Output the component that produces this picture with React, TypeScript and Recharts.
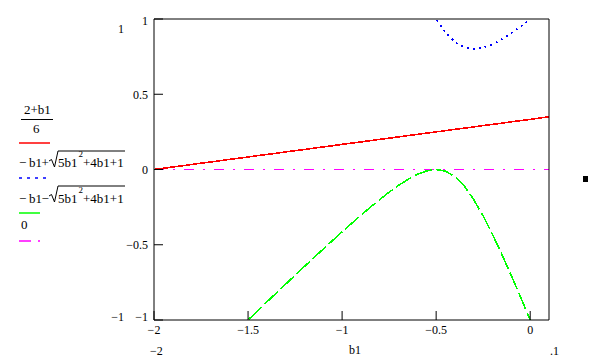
import React from 'react';
import { ComposedChart, Line, XAxis, YAxis, ReferenceLine } from 'recharts';

// sample points along b1
const b1 = [
  -2, -1.95, -1.9, -1.85, -1.8, -1.75, -1.7, -1.65, -1.6, -1.55, -1.5, -1.45, -1.4, -1.35,
  -1.3, -1.25, -1.2, -1.15, -1.1, -1.05, -1, -0.95, -0.9, -0.85, -0.8, -0.75, -0.7, -0.65,
  -0.6, -0.55, -0.5, -0.45, -0.4, -0.35, -0.3, -0.25, -0.2, -0.15, -0.1, -0.05, 0, 0.05, 0.1,
];

// (2+b1)/6  - red
const linear = [
  0, 0.008, 0.017, 0.025, 0.033, 0.042, 0.05, 0.058, 0.067, 0.075, 0.083, 0.092, 0.1, 0.108,
  0.117, 0.125, 0.133, 0.142, 0.15, 0.158, 0.167, 0.175, 0.183, 0.192, 0.2, 0.208, 0.217, 0.225,
  0.233, 0.242, 0.25, 0.258, 0.267, 0.275, 0.283, 0.292, 0.3, 0.308, 0.317, 0.325, 0.333, 0.342, 0.35,
];

// -b1 + sqrt(...)  - blue dotted
const upper = [
  5.606, 5.445, 5.284, 5.123, 4.962, 4.802, 4.641, 4.481, 4.32, 4.16, 4.0, 3.84, 3.68, 3.521,
  3.362, 3.203, 3.044, 2.886, 2.728, 2.571, 2.414, 2.259, 2.104, 1.951, 1.8, 1.651, 1.506, 1.366,
  1.232, 1.109, 1.0, 0.911, 0.847, 0.811, 0.8, 0.809, 0.832, 0.866, 0.906, 0.951, 1.0, 1.051, 1.104,
];

// -b1 - sqrt(...)  - green dashed
const lower = [
  -1.606, -1.545, -1.484, -1.423, -1.362, -1.302, -1.241, -1.181, -1.12, -1.06, -1.0, -0.94, -0.88, -0.821,
  -0.762, -0.703, -0.644, -0.586, -0.528, -0.471, -0.414, -0.359, -0.304, -0.251, -0.2, -0.151, -0.106, -0.066,
  -0.032, -0.009, 0, -0.011, -0.047, -0.111, -0.2, -0.309, -0.432, -0.566, -0.706, -0.851, -1.0, -1.151, -1.304,
];

const xTicks = [-2, -1.5, -1, -0.5, 0];
const yTicks = [-1, -0.5, 0, 0.5, 1];

const data = b1.map((x, i) => ({ b1: x, red: linear[i], blue: upper[i], green: lower[i] }));

const FONT = "'Liberation Serif', 'Times New Roman', serif";
const fmt = (v: number) => (v < 0 ? '\u2212' + Math.abs(v) : String(v));

// y tick labels: Mathcad pulls the end labels inside the frame
const YTick = ({ x, y, payload }: any) => {
  const v = payload.value;
  const shift = v === 1 ? 1.7 : v === -1 ? -3.3 : 0;
  return (
    <text x={x} y={y + 4.3 + shift} textAnchor="end" fill="#000" fontSize={12} fontFamily={FONT}>
      {fmt(v)}
    </text>
  );
};

const radical = (dy: number) => `M49 ${161 + dy} L51.5 ${159.5 + dy} L54.5 ${167 + dy} L58 ${151 + dy} L125 ${151 + dy}`;

const App: React.FC = () => {
  return (
    <div style={{ position: 'absolute', left: 0, top: 0, width: 589, height: 359, background: '#fff' }}>
      <ComposedChart width={589} height={359} data={data} margin={{ top: 0, right: 0, bottom: 0, left: 0 }}>
        <XAxis
          xAxisId="bottom"
          dataKey="b1"
          type="number"
          domain={[-2, 0.1]}
          ticks={xTicks}
          interval={0}
          allowDataOverflow
          height={39}
          tickSize={-9}
          tickMargin={14}
          stroke="#000"
          tick={{ fill: '#000', fontSize: 12, fontFamily: FONT }}
          tickFormatter={fmt}
        />
        <XAxis
          xAxisId="top"
          orientation="top"
          dataKey="b1"
          type="number"
          domain={[-2, 0.1]}
          ticks={xTicks}
          interval={0}
          allowDataOverflow
          height={19}
          tickSize={-9}
          stroke="#000"
          tick={false}
        />
        <YAxis
          yAxisId="left"
          type="number"
          domain={[-1, 1]}
          ticks={yTicks}
          interval={0}
          allowDataOverflow
          width={154}
          tickSize={-9}
          tickMargin={15}
          stroke="#000"
          tick={<YTick />}
        />
        <YAxis
          yAxisId="right"
          orientation="right"
          type="number"
          domain={[-1, 1]}
          ticks={yTicks}
          interval={0}
          allowDataOverflow
          width={40}
          tickSize={-9}
          stroke="#000"
          tick={false}
        />
        <ReferenceLine
          xAxisId="bottom"
          yAxisId="left"
          y={0}
          stroke="#ff00ff"
          strokeWidth={1.5}
          strokeDasharray="10 9 2 9"
          shapeRendering="crispEdges"
        />
        <Line
          xAxisId="bottom"
          yAxisId="left"
          type="linear"
          dataKey="red"
          stroke="#ff0000"
          strokeWidth={1.6}
          dot={false}
          shapeRendering="crispEdges"
          isAnimationActive={false}
        />
        <Line
          xAxisId="bottom"
          yAxisId="left"
          type="linear"
          dataKey="blue"
          stroke="#0000ff"
          strokeWidth={1.6}
          strokeDasharray="2 4"
          dot={false}
          shapeRendering="crispEdges"
          isAnimationActive={false}
        />
        <Line
          xAxisId="bottom"
          yAxisId="left"
          type="linear"
          dataKey="green"
          stroke="#00ff00"
          strokeWidth={1.6}
          strokeDasharray="18 4"
          dot={false}
          shapeRendering="crispEdges"
          isAnimationActive={false}
        />
      </ComposedChart>

      {/* legend + range limit labels, Mathcad style */}
      <svg
        width={589}
        height={359}
        style={{ position: 'absolute', left: 0, top: 0, pointerEvents: 'none' }}
        fontFamily={FONT}
        fill="#000"
      >
        <text x={24} y={114} fontSize={13}>2+b1</text>
        <line x1={21} x2={53} y1={119.5} y2={119.5} stroke="#000" />
        <text x={33} y={133} fontSize={13}>6</text>
        <line x1={19} x2={50} y1={143} y2={143} stroke="#ff0000" strokeWidth={1.5} />

        <text x={19} y={167} fontSize={13}>{'\u2212'}</text>
        <text x={29} y={167} fontSize={13}>b1</text>
        <text x={41.5} y={167} fontSize={13}>+</text>
        <path d={radical(0)} fill="none" stroke="#000" strokeWidth={1} />
        <text x={58} y={167} fontSize={13}>5b1</text>
        <text x={78.5} y={157} fontSize={9}>2</text>
        <text x={83} y={167} fontSize={13}>+4b1+1</text>
        <line x1={19} x2={46} y1={178} y2={178} stroke="#0000ff" strokeWidth={1.5} strokeDasharray="3 5" />

        <text x={19} y={202.5} fontSize={13}>{'\u2212'}</text>
        <text x={29} y={202.5} fontSize={13}>b1</text>
        <text x={41.5} y={202.5} fontSize={13}>{'\u2212'}</text>
        <path d={radical(35)} fill="none" stroke="#000" strokeWidth={1} />
        <text x={58} y={202.5} fontSize={13}>5b1</text>
        <text x={78.5} y={192.5} fontSize={9}>2</text>
        <text x={83} y={202.5} fontSize={13}>+4b1+1</text>
        <line x1={19} x2={40} y1={213} y2={213} stroke="#00ff00" strokeWidth={1.5} />

        <text x={21} y={229} fontSize={13}>0</text>
        <line x1={19} x2={41} y1={241} y2={241} stroke="#ff00ff" strokeWidth={1.5} strokeDasharray="12 7 2 9" />

        <text x={121} y={33} fontSize={12} textAnchor="middle">1</text>
        <text x={124} y={321} fontSize={12} textAnchor="end">{'\u2212'}1</text>
        <text x={150} y={355} fontSize={12}>{'\u2212'}2</text>
        <text x={349} y={354} fontSize={12}>b1</text>
        <text x={550} y={355} fontSize={12}>.1</text>

        <rect x={583} y={176} width={5} height={6} fill="#000" />
      </svg>
    </div>
  );
};

export default App;
